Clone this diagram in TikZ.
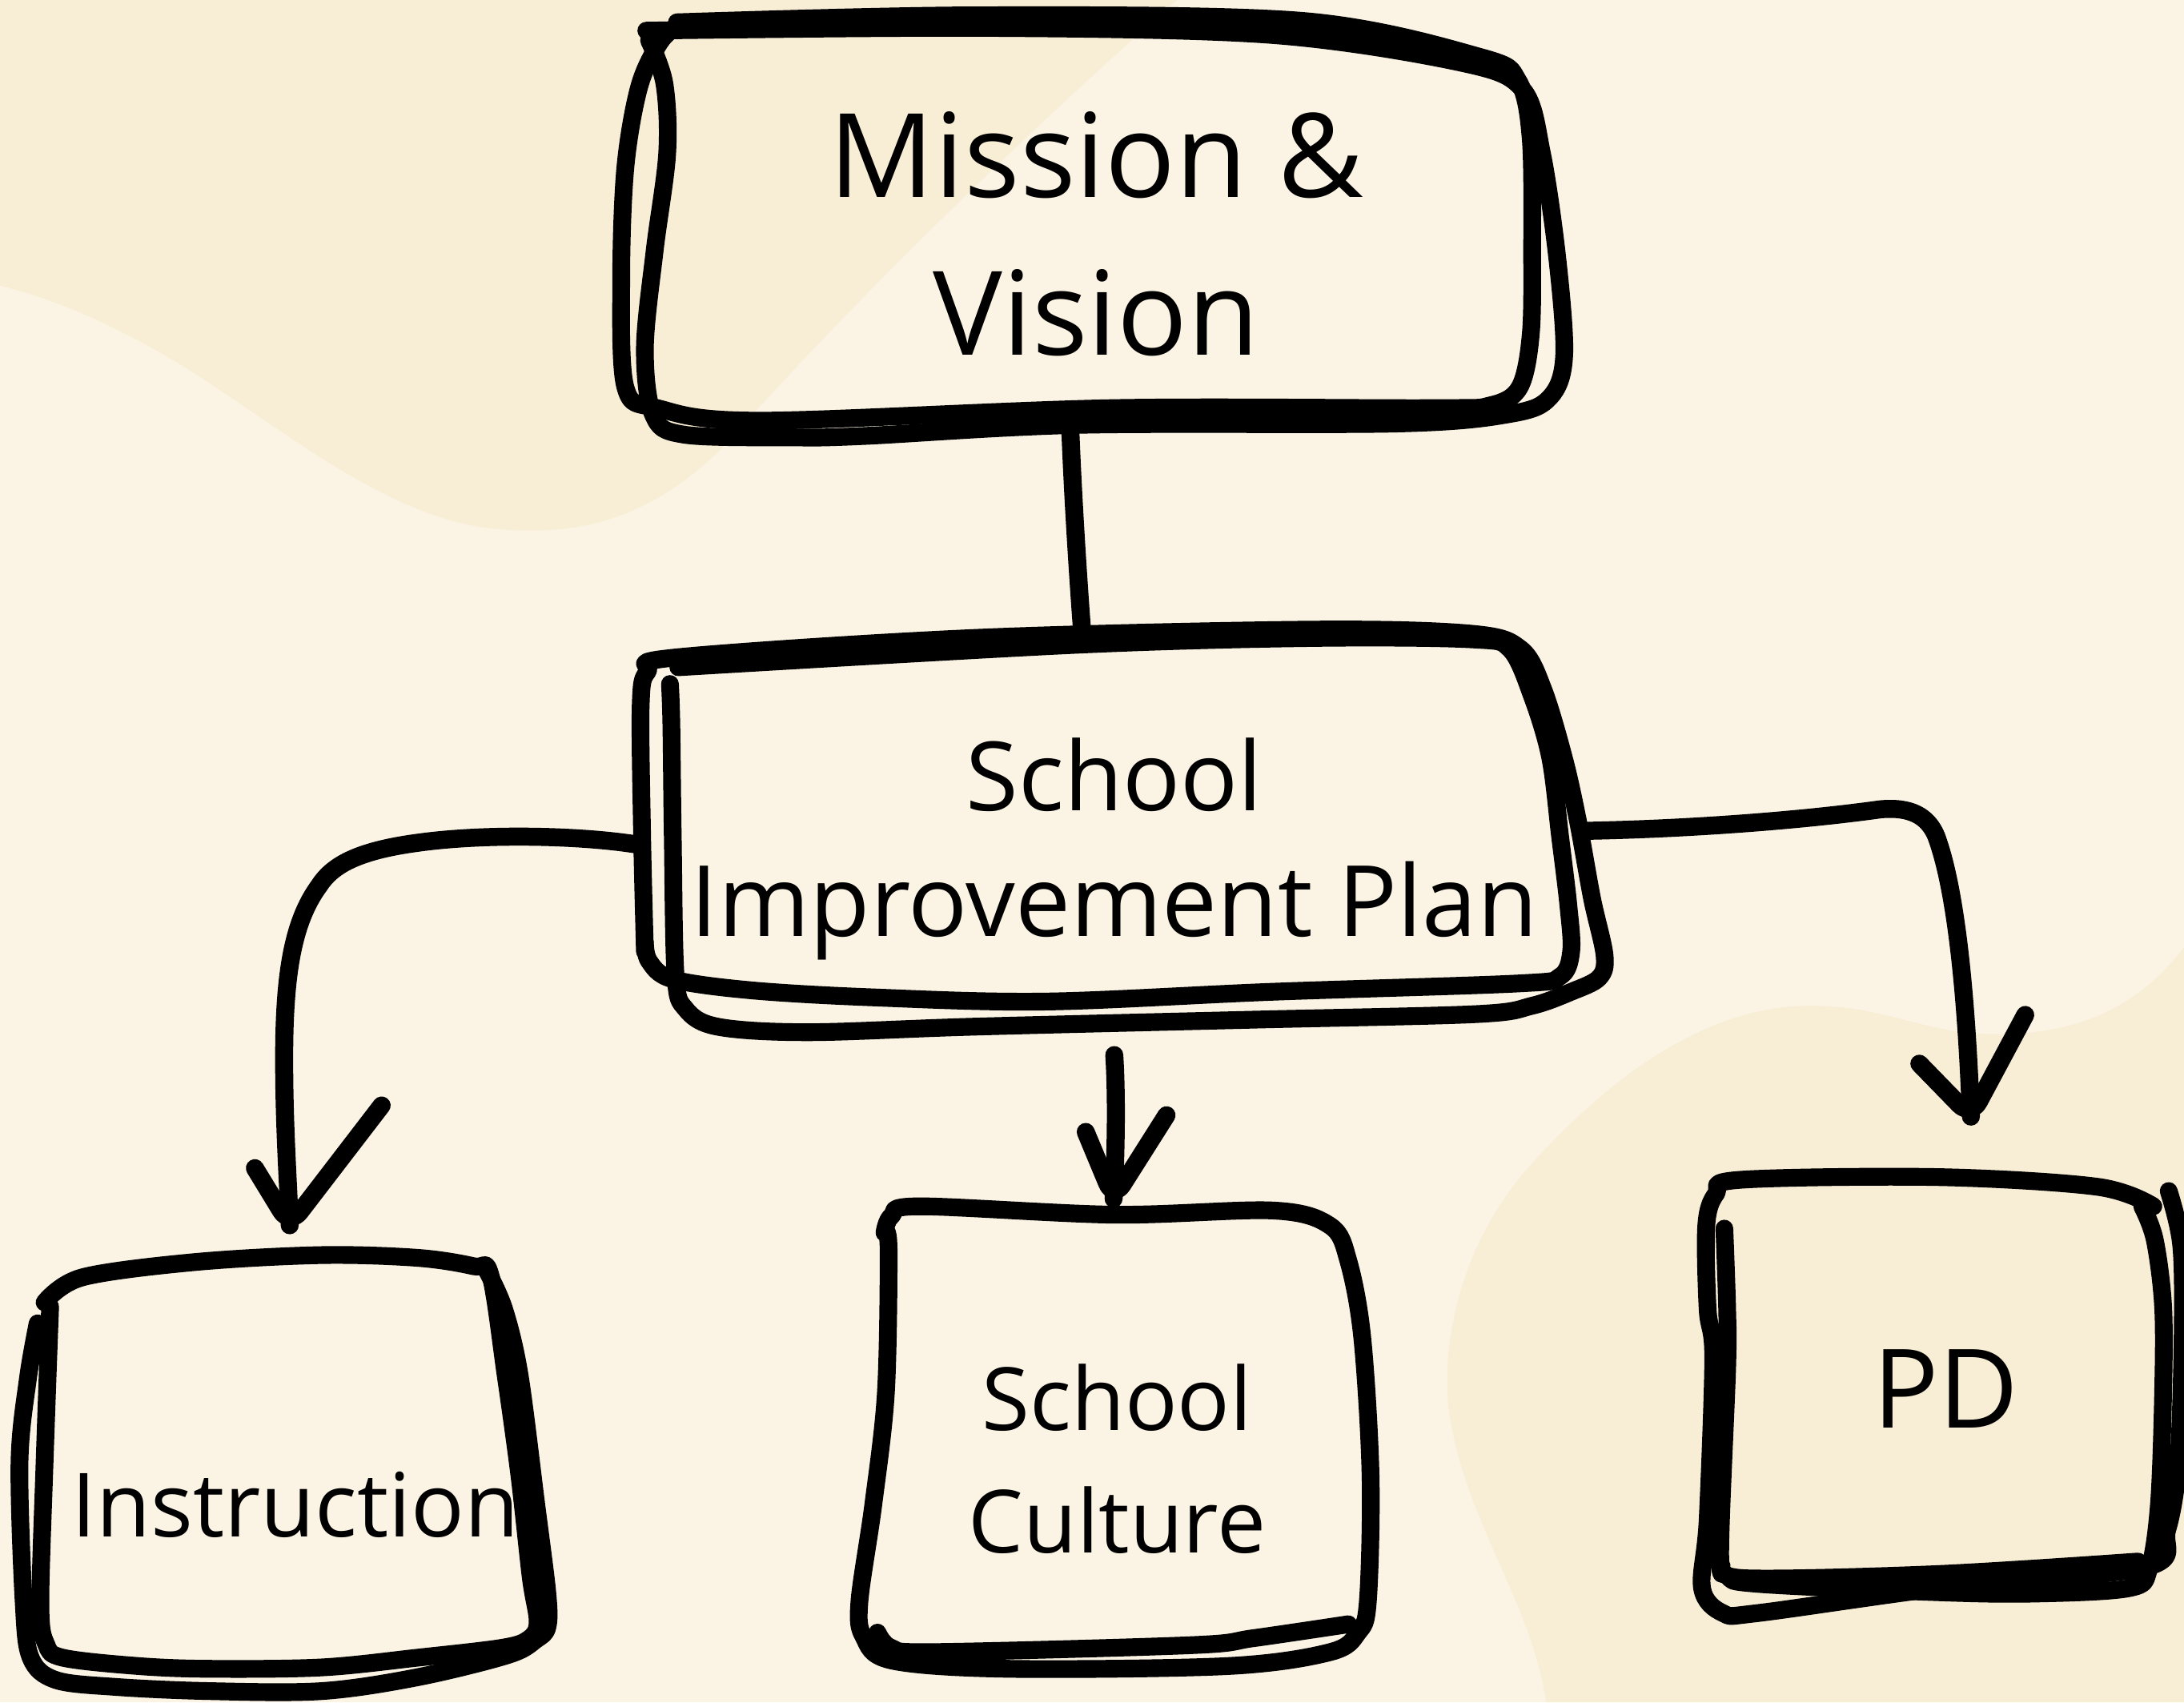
\documentclass[tikz,border=0pt]{standalone}
\usepackage{fontspec}
\setmainfont{Open Sans}
\usetikzlibrary{calc,fit}
\definecolor{bgc}{RGB}{251,244,228}
\definecolor{blobc}{RGB}{248,237,213}
\begin{document}
\begin{tikzpicture}[x=0.017398cm, y=-0.017398cm, line cap=round, line join=round,
  sk/.style={line width=6.3pt, draw=black},
  conn/.style={line width=6.4pt, draw=black},
  boxarea/.style={inner sep=0pt, draw=none},
  lbl/.style={inner sep=0pt, align=center, anchor=base}]
% background
\fill[bgc] (0,0) rectangle (1568,1222);
\useasboundingbox (0,0) rectangle (1568,1222);
\fill[blobc] (0,0) -- (845,0) .. controls (720,110) and (600,230) .. (520,320)
  .. controls (470,370) and (420,385) .. (360,380) .. controls (280,375) and (200,305) .. (130,262)
  .. controls (80,232) and (40,215) .. (0,205) -- cycle;
\fill[blobc] (1568,680) .. controls (1530,730) and (1480,745) .. (1420,742)
  .. controls (1380,740) and (1350,722) .. (1300,722) .. controls (1220,722) and (1150,780) .. (1100,835)
  .. controls (1050,890) and (1035,960) .. (1040,1010) .. controls (1050,1090) and (1100,1150) .. (1110,1222)
  -- (1568,1222) -- cycle;
% box areas
\node[boxarea, fit={(447,14) (1120,310)}] (mv) {};
\node[boxarea, fit={(460,455) (1152,740)}] (sip) {};
\node[boxarea, fit={(18,905) (392,1215)}] (ins) {};
\node[boxarea, fit={(620,868) (983,1195)}] (sc) {};
\node[boxarea, fit={(1223,848) (1565,1155)}] (pd) {};
% Mission box strokes
\draw[sk] plot[smooth, tension=0.55] coordinates {(486,16) (700,11) (935,15) (1063,41) (1090,58) (1099,100) (1100,180) (1099,240) (1091,278) (1070,291) (1027,293) (798,293) (546,302) (472,293) (449,278) (446,200) (449,120) (459,62) (474,30) (488,17)};
\draw[sk] plot[smooth, tension=0.55] coordinates {(464,22) (706,20) (912,25) (1049,45) (1093,64) (1107,110) (1118,185) (1123,255) (1113,285) (1085,297) (1004,304) (775,305) (620,313) (568,314) (491,312) (469,298) (463,250) (470,180) (479,110) (477,60) (466,29)};
% SIP box strokes
\draw[sk] plot[smooth, tension=0.55] coordinates {(463,683) (461,600) (460,506) (465,482) (485,472) (699,458) (942,452) (1057,455) (1092,466) (1108,495) (1123,545) (1133,590) (1143,645) (1152,686) (1148,702) (1128,712) (1100,722) (1060,728) (900,732) (700,737) (580,741) (515,737) (492,724) (485,700) (483,600) (482,520) (481,491)};
\draw[sk] plot[smooth, tension=0.55] coordinates {(487,479) (770,463) (942,458) (1057,459) (1084,466) (1100,500) (1113,544) (1120,600) (1126,650) (1128,683) (1120,701) (1090,706) (913,712) (750,719) (627,716) (540,711) (483,703) (466,690) (463,676)};
% Instruction box strokes
\draw[sk] plot[smooth, tension=0.55] coordinates {(32,935) (59,917) (140,906) (231,901) (300,903) (340,909) (352,915) (363,987) (373,1060) (381,1132) (386,1165) (379,1177) (360,1183) (300,1190) (231,1197) (150,1198) (99,1196) (45,1190) (33,1180) (29,1152) (32,1050) (36,938)};
\draw[sk] plot[smooth, tension=0.55] coordinates {(350,913) (362,940) (373,987) (385,1080) (393,1144) (393,1168) (385,1177) (365,1188) (300,1204) (231,1214) (150,1214) (83,1211) (40,1206) (22,1190) (17,1150) (14,1050) (20,990) (27,950)};
% School Culture box strokes
\draw[sk] plot[smooth, tension=0.55] coordinates {(635,885) (640,873) (660,866) (800,872) (914,869) (955,880) (968,905) (978,960) (984,1060) (982,1150) (975,1172) (955,1186) (882,1196) (724,1198) (640,1192) (620,1175) (617,1150) (627,1080) (636,1000) (638,900) (636,884)};
\draw[sk] plot[smooth, tension=0.55] coordinates {(968,1166) (900,1176) (856,1181) (671,1186) (640,1183) (630,1172)};
% PD box strokes
\draw[sk] plot[smooth, tension=0.55] coordinates {(1546,866) (1506,852) (1391,845) (1249,847) (1232,857) (1225,880) (1226,940) (1230,975) (1226,1091) (1222,1140) (1237,1158) (1262,1158) (1400,1139) (1541,1125) (1556,1098) (1564,1048) (1567,960) (1566,894) (1557,855)};
\draw[sk] plot[smooth, tension=0.55] coordinates {(1238,882) (1240,940) (1240,982) (1235,1114) (1240,1131) (1262,1137) (1391,1143) (1460,1144) (1529,1140) (1543,1126) (1550,1080) (1553,1000) (1553,938) (1547,890) (1538,866)};
\draw[sk] plot[smooth, tension=0.55] coordinates {(1535,1121) (1391,1130) (1253,1133) (1236,1124)};
% labels (anchor = baseline of last line)
\node[lbl, font=\fontsize{41.5}{56}\selectfont] (mvt) at (787,255) {Mission \&\\Vision};
\node[lbl, font=\fontsize{34}{44.6}\selectfont] (sipt) at (800,672) {School\\{\fontsize{35}{44.6}\selectfont Improvement Plan}};
\node[lbl, font=\fontsize{31.5}{40}\selectfont] (inst) at (212,1103) {Instruction};
\node[lbl, font=\fontsize{31}{43.6}\selectfont] (sct) at (802,1115) {School\\Culture};
\node[lbl, font=\fontsize{39}{48}\selectfont] (pdt) at (1397,1025) {PD};
% connectors
\draw[conn] ($(mv.south)+(-15,0)$) .. controls ($(mv.south)+(-13,50)$) and ($(sip.north)+(-32,-40)$) .. ($(sip.north)+(-29,0)$);
\coordinate (c2s) at ($(sip.west)+(-1,9)$);
\coordinate (t2) at ($(ins.north)+(3,-25)$);
\draw[conn] (c2s) .. controls (420,600) and (350,598) .. (300,605) .. controls (255,611) and (238,622) .. (229,636) .. controls (210,662) and (204,700) .. (204,760) .. controls (204,810) and (207,850) .. (t2);
\draw[conn, rounded corners=6pt] ($(t2)+(-25,-41)$) -- (t2) -- ($(t2)+(66,-86)$);
\coordinate (c3s) at ($(sip.south)+(-6,17)$);
\coordinate (t3) at ($(sc.north)+(-2,-7)$);
\draw[conn] (c3s) .. controls (802,790) and (801,830) .. (t3);
\draw[conn, rounded corners=6pt] ($(t3)+(-20,-48)$) -- (t3) -- ($(t3)+(38,-60)$);
\coordinate (c4s) at ($(sip.east)+(-17,-1)$);
\coordinate (t4) at ($(pd.north)+(21,-46)$);
\draw[conn] (c4s) .. controls (1220,595) and (1300,588) .. (1350,581) .. controls (1372,579) and (1384,586) .. (1390,600) .. controls (1405,640) and (1412,720) .. (t4);
\draw[conn, rounded corners=6pt] ($(t4)+(-37,-38)$) -- (t4) -- ($(t4)+(39,-73)$);
\end{tikzpicture}
\end{document}
